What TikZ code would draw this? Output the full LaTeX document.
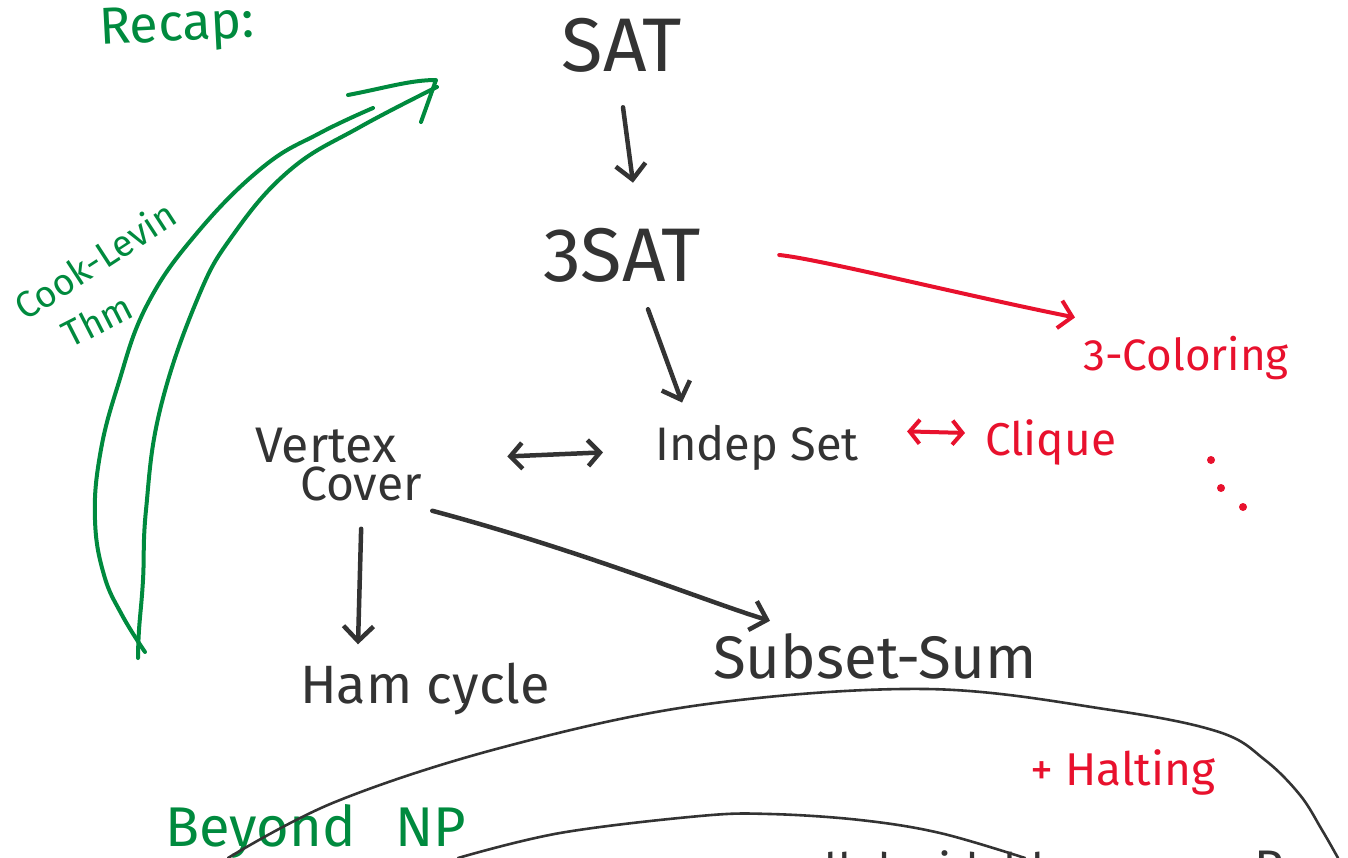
\documentclass[tikz,border=0pt]{standalone}
\usepackage{fontspec}
\setmainfont{Fira Sans}
\usetikzlibrary{arrows.meta,calc}
\definecolor{ink}{RGB}{51,51,51}
\definecolor{pengreen}{RGB}{0,138,62}
\definecolor{penred}{RGB}{232,17,45}
\newcommand{\fsz}[1]{\fontsize{#1}{#1}\selectfont}

\begin{document}
\begin{tikzpicture}[x=1pt,y=-1pt,line cap=round,line join=round,
  lbl/.style={inner sep=0pt,text=ink},
  glbl/.style={inner sep=0pt,text=pengreen},
  rlbl/.style={inner sep=0pt,text=penred},
  arr/.style={draw=ink,line width=4.5pt,-{Straight Barb[length=15pt,width=30pt]}},
  dblarr/.style={draw=ink,line width=4.5pt,{Straight Barb[length=12pt,width=26pt]}-{Straight Barb[length=12pt,width=26pt]}},
  rarr/.style={draw=penred,line width=4pt,-{Straight Barb[length=13pt,width=28pt]}},
  rdblarr/.style={draw=penred,line width=4pt,{Straight Barb[length=10pt,width=24pt]}-{Straight Barb[length=10pt,width=24pt]}},
  gline/.style={draw=pengreen,line width=4pt},
  region/.style={draw=ink,line width=2.6pt}]
\useasboundingbox (0,0) rectangle (1348,858);
\clip (0,0) rectangle (1348,858);

% problems
\node[lbl,font=\fsz{76}] (sat) at (622,45) {SAT};
\node[lbl,font=\fsz{76}] (tsat) at (622,255) {3SAT};
\node[lbl,font=\fsz{47},anchor=base west] (ind) at (655,460) {Indep Set};
\node[lbl,font=\fsz{50},anchor=base west] (vtx) at (255,462) {Vertex};
\node[lbl,font=\fsz{48},anchor=base west] (cov) at (300,500) {Cover};
\node[lbl,font=\fsz{54},anchor=base west] (ham) at (300,703) {Ham cycle};
\node[lbl,font=\fsz{60},anchor=base west] (sub) at (713,678) {Subset-Sum};
\node[rlbl,font=\fsz{46},anchor=base west] (cli) at (985,455) {Clique};
\node[rlbl,font=\fsz{44},anchor=base west] (col) at (1083,370) {3-Coloring};
\node[rlbl,font=\fsz{46},anchor=base west] (halt) at (1030,785) {+ Halting};

% green notes
\node[glbl,font=\fsz{52},anchor=base west,rotate=3] (recap) at (100,45) {Recap:};
\node[glbl,font=\fsz{37},rotate=33] (cook) at (95,260) {Cook-Levin};
\node[glbl,font=\fsz{37},rotate=27] (thm) at (97,320) {Thm};
\node[glbl,font=\fsz{56},anchor=base west] (beyond) at (165,846) {Beyond\hspace{0.7em}NP};

% reductions
\draw[arr] ($(sat.south)+(1,35)$) -- ($(tsat.north)+(11,-45)$);
\draw[arr] ($(tsat.south)+(26,27)$) -- ($(ind.north)+(-75,-22)$);
\draw[rarr] ($(tsat.east)+(78,0)$) .. controls +(40,4) and +(-110,-22) .. ($(col.north west)+(-8,-18)$);
\draw[dblarr] ($(cov.east)+(85,-27)$) -- ($(ind.west)+(-52,5)$);
\draw[rdblarr] ($(ind.east)+(48,-16)$) -- ($(cli.west)+(-20,-9)$);
\draw[arr] ($(cov.south)+(0,28)$) -- ($(ham.north west)+(58,-18)$);
\draw[arr] ($(cov.south east)+(10,10)$) .. controls +(150,40) and +(-60,-18) .. ($(sub.north west)+(57,-12)$);

% continuation dots
\foreach \p in {(1211,460),(1221,488),(1243,507)}
  \fill[penred] \p circle (4);

% Cook--Levin arrow
\draw[gline] plot[smooth,tension=0.7] coordinates
  {(145,652) (122,615) (104,575) (95,520) (100,455) (118,385) (147,305) (197,233) (263,167) (320,133) (373,108)};
\draw[gline] plot[smooth,tension=0.7] coordinates
  {(138,658) (139,630) (143,580) (146,510) (160,410) (197,300) (233,235) (290,170) (360,127) (437,87)};
\draw[gline] (348,95) .. controls (385,88) and (410,80) .. (436,80) -- (421,122);

% complexity regions
\draw[region] plot[smooth,tension=0.6] coordinates
  {(228,858) (335,802) (500,748) (700,705) (926,689) (1111,710) (1219,732) (1265,760) (1300,795) (1322,830) (1338,858)};
\draw[region] plot[smooth,tension=0.6] coordinates
  {(458,858) (560,833) (700,816) (770,814) (860,820) (940,833) (1025,858)};
\node[lbl,font=\fsz{46},anchor=base west] (dec) at (800,886) {all decidable};
\node[lbl,font=\fsz{50},anchor=base west] (re) at (1254,885) {Re};
\end{tikzpicture}
\end{document}
